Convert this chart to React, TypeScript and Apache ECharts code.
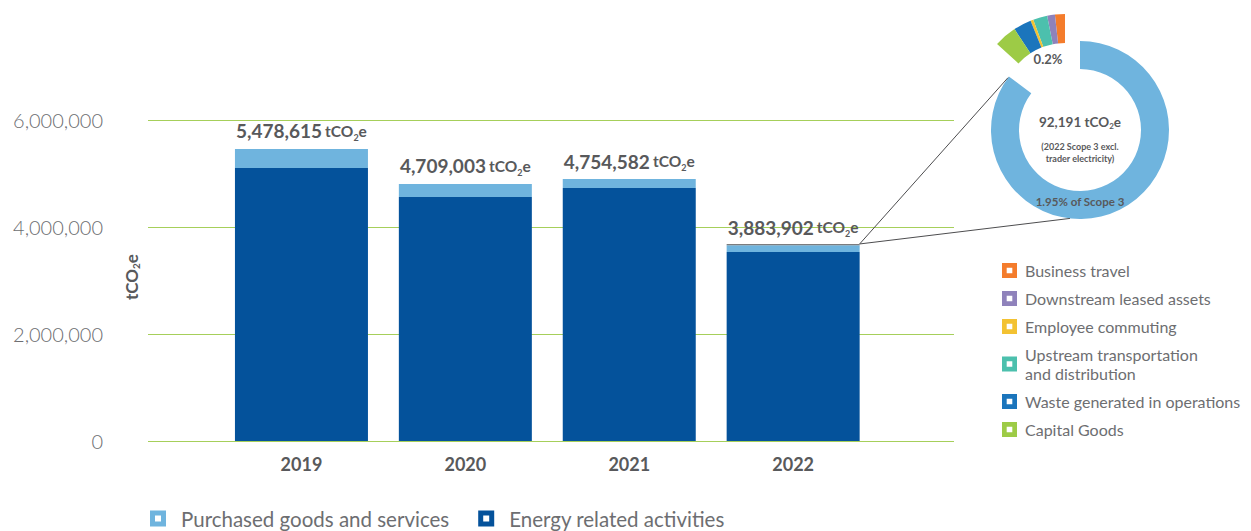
import React, { useEffect, useRef } from 'react';
import * as echarts from 'echarts';

// ---- data ----
const years = ['2019', '2020', '2021', '2022'];
const energyRelated = [5103000, 4561000, 4729000, 3533000];
const purchasedGoods = [355000, 243000, 168000, 125000];
const otherScope3 = [null, null, null, 25000];
const totalLabels = [5478615, 4709003, 4754582, 3883902];
const yMin = 0;
const yMax = 6000000;
const yInterval = 2000000;

// 2022 scope 3 breakdown (donut)
const ringShares = [307, 53]; // main ring share, exploded part
const scope3Names = [
  'Business travel',
  'Downstream leased assets',
  'Upstream transportation and distribution',
  'Employee commuting',
  'Waste generated in operations',
  'Capital Goods',
];
const scope3Shares = [6.3, 4.9, 9.0, 1.8, 11.3, 14.3];
const scope3LegendOrder = [
  'Business travel',
  'Downstream leased assets',
  'Employee commuting',
  'Upstream transportation and distribution',
  'Waste generated in operations',
  'Capital Goods',
];
const scope3Colors: Record<string, string> = {
  'Business travel': '#f47c2c',
  'Downstream leased assets': '#8f82bb',
  'Employee commuting': '#f3c232',
  'Upstream transportation and distribution': '#4cc0ad',
  'Waste generated in operations': '#1b75bc',
  'Capital Goods': '#9dcb46',
};
const scope3Total = '92,191';
const exploded = '0.2%';
const ringLabel = '1.95% of Scope 3';

const LIGHT = '#6fb4de';
const DARK = '#04529b';
const GREEN = '#a6cf5a';
const TXT = '#58595b';
const TXT2 = '#6d6e71';
const FONT = 'Lato, "Noto Sans", sans-serif';

const holeIcon = 'path://M0,0H16V16H0Z M5,5V11H11V5Z';

export default function App() {
  const ref = useRef<HTMLDivElement>(null);
  useEffect(() => {
    const chart = echarts.init(ref.current!, null, { renderer: 'svg' });
    const grid0 = { left: 148, top: 120, width: 806, height: 321 };
    const grid1 = { left: 219.5, top: 120, width: 655.6, height: 321 };
    const donutCenter = [1080, 130];
    const donutR = [61, 89];
    const explodedCenter = [1065, 106];
    const explodedR = [63, 92];

    const option: any = {
      animation: false,
      textStyle: { fontFamily: FONT },
      grid: [
        { ...grid0, containLabel: false },
        { ...grid1, containLabel: false },
      ],
      xAxis: [
        { gridIndex: 0, type: 'value', show: false, min: 0, max: 1 },
        {
          gridIndex: 1,
          type: 'category',
          data: years,
          axisLine: { show: false },
          axisTick: { show: false },
          axisLabel: { margin: 14, fontSize: 18, fontWeight: 'bold', color: TXT, fontFamily: FONT },
        },
      ],
      yAxis: [
        {
          gridIndex: 0,
          type: 'value',
          min: yMin,
          max: yMax,
          interval: yInterval,
          axisLine: { show: false },
          axisTick: { show: false },
          splitLine: { lineStyle: { color: GREEN, width: 1 } },
          axisLabel: {
            margin: 45,
            fontSize: 20,
            fontWeight: 300,
            color: TXT2,
            fontFamily: FONT,
            formatter: (v: number) => v.toLocaleString('en-US'),
          },
        },
        { gridIndex: 1, type: 'value', min: yMin, max: yMax, show: false },
      ],
      legend: [
        {
          data: ['Purchased goods and services', 'Energy related activities'],
          left: 145,
          top: 503,
          itemWidth: 16,
          itemHeight: 16,
          itemGap: 29,
          icon: holeIcon,
          textStyle: { fontSize: 20.5, color: TXT2, fontFamily: FONT, padding: [0, 0, 0, 10] },
        },
        {
          data: scope3LegendOrder,
          orient: 'vertical',
          left: 997,
          top: 256,
          itemWidth: 15,
          itemHeight: 15,
          itemGap: 9,
          icon: holeIcon,
          formatter: (n: string) =>
            n === 'Upstream transportation and distribution' ? 'Upstream transportation\nand distribution' : n,
          textStyle: { fontSize: 16, lineHeight: 19, color: TXT2, fontFamily: FONT, padding: [0, 0, 0, 3] },
        },
      ],
      series: [
        {
          name: 'Energy related activities',
          type: 'bar',
          xAxisIndex: 1,
          yAxisIndex: 1,
          stack: 'total',
          barWidth: 133,
          itemStyle: { color: DARK },
          data: energyRelated,
        },
        {
          name: 'Purchased goods and services',
          type: 'bar',
          xAxisIndex: 1,
          yAxisIndex: 1,
          stack: 'total',
          barWidth: 133,
          itemStyle: { color: LIGHT },
          data: purchasedGoods,
          label: {
            show: true,
            position: 'top',
            distance: 7,
            formatter: (p: any) =>
              `{n|${totalLabels[p.dataIndex].toLocaleString('en-US')}} {u|tCO}{s|2}{u|e}`,
            rich: {
              n: { fontSize: 19, fontWeight: 'bold', color: TXT, lineHeight: 22, fontFamily: FONT },
              u: { fontSize: 15.5, fontWeight: 'bold', color: TXT, lineHeight: 22, fontFamily: FONT },
              s: { fontSize: 9, fontWeight: 'bold', color: TXT, lineHeight: 9, verticalAlign: 'bottom', fontFamily: FONT },
            },
          },
        },
        {
          name: 'Other Scope 3',
          type: 'bar',
          xAxisIndex: 1,
          yAxisIndex: 1,
          stack: 'total',
          barWidth: 133,
          itemStyle: { color: '#7b7c7e' },
          data: otherScope3,
        },
        {
          name: 'Scope 3 ring',
          type: 'pie',
          center: donutCenter,
          radius: donutR,
          startAngle: 90,
          clockwise: true,
          silent: true,
          z: 2,
          label: { show: false },
          labelLine: { show: false },
          data: [
            { name: 'Scope 3 main', value: ringShares[0], itemStyle: { color: LIGHT } },
            { name: 'gap', value: ringShares[1], itemStyle: { color: 'rgba(0,0,0,0)' } },
          ],
        },
        {
          name: 'Scope 3 breakdown',
          type: 'pie',
          center: explodedCenter,
          radius: explodedR,
          startAngle: 90,
          clockwise: false,
          silent: true,
          z: 2,
          label: { show: false },
          labelLine: { show: false },
          data: [
            ...scope3Names.map((n, i) => ({
              name: n,
              value: scope3Shares[i],
              itemStyle: { color: scope3Colors[n] },
            })),
            {
              name: 'rest',
              value: 360 - scope3Shares.reduce((a, b) => a + b, 0),
              itemStyle: { color: 'rgba(0,0,0,0)' },
            },
          ],
        },
      ],
    };
    chart.setOption(option);

    const total2022 = energyRelated[3] + purchasedGoods[3] + (otherScope3[3] || 0);
    const top = chart.convertToPixel({ xAxisIndex: 1, yAxisIndex: 1 }, [years[3], total2022]) as number[];
    const corner = [top[0] + 133 / 2, top[1]];
    const a1 = (144 * Math.PI) / 180;
    const a2 = (263.5 * Math.PI) / 180;
    const p1 = [donutCenter[0] + donutR[1] * Math.cos(a1), donutCenter[1] - donutR[1] * Math.sin(a1)];
    const p2 = [donutCenter[0] + donutR[1] * Math.cos(a2), donutCenter[1] - donutR[1] * Math.sin(a2)];

    chart.setOption({
      graphic: [
        {
          type: 'line',
          z: 100,
          shape: { x1: corner[0], y1: corner[1], x2: p1[0], y2: p1[1] },
          style: { stroke: '#4d4d4f', lineWidth: 1 },
          silent: true,
        },
        {
          type: 'line',
          z: 100,
          shape: { x1: corner[0], y1: corner[1], x2: p2[0], y2: p2[1] },
          style: { stroke: '#4d4d4f', lineWidth: 1 },
          silent: true,
        },
        {
          type: 'text',
          z: 100,
          x: 131,
          y: 277,
          rotation: Math.PI / 2,
          style: {
            text: '{u|tCO}{s|2}{u|e}',
            align: 'center',
            verticalAlign: 'middle',
            rich: {
              u: { fontSize: 17, fontWeight: 'bold', fill: TXT, lineHeight: 20, fontFamily: FONT },
              s: { fontSize: 10, fontWeight: 'bold', fill: TXT, lineHeight: 10, verticalAlign: 'bottom', fontFamily: FONT },
            },
          },
        },
        {
          type: 'text',
          z: 100,
          x: donutCenter[0],
          y: 122,
          style: {
            text: `{n|${scope3Total} tCO}{s|2}{n|e}`,
            align: 'center',
            verticalAlign: 'middle',
            rich: {
              n: { fontSize: 13.5, fontWeight: 'bold', fill: TXT, lineHeight: 16, fontFamily: FONT },
              s: { fontSize: 8, fontWeight: 'bold', fill: TXT, lineHeight: 8, verticalAlign: 'bottom', fontFamily: FONT },
            },
          },
        },
        {
          type: 'text',
          z: 100,
          x: donutCenter[0],
          y: 152,
          style: {
            text: '(2022 Scope 3 excl.\ntrader electricity)',
            align: 'center',
            verticalAlign: 'middle',
            fontSize: 9,
            lineHeight: 12,
            fontWeight: 'bold',
            fill: TXT,
            fontFamily: FONT,
          },
        },
        {
          type: 'text',
          z: 100,
          x: donutCenter[0],
          y: 201,
          style: {
            text: ringLabel,
            align: 'center',
            verticalAlign: 'middle',
            fontSize: 11.5,
            fontWeight: 'bold',
            fill: TXT,
            fontFamily: FONT,
          },
        },
        {
          type: 'text',
          z: 100,
          x: 1048,
          y: 59,
          style: {
            text: exploded,
            align: 'center',
            verticalAlign: 'middle',
            fontSize: 13,
            fontWeight: 'bold',
            fill: TXT,
            fontFamily: FONT,
          },
        },
      ],
    });

    return () => chart.dispose();
  }, []);
  return <div ref={ref} style={{ position: 'absolute', left: 0, top: 0, width: 1251, height: 531 }} />;
}
